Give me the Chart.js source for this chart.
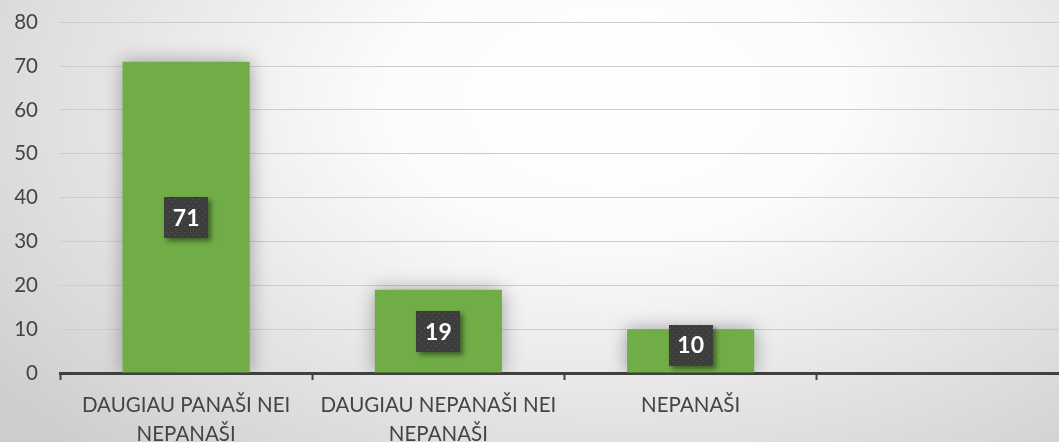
<!DOCTYPE html>
<html>
<head>
<meta charset="utf-8">
<script src="https://cdn.jsdelivr.net/npm/chart.js@4/dist/chart.umd.min.js"></script>
<style>
  html, body { margin: 0; padding: 0; overflow: hidden; width: 1059px; height: 442px; }
  body {
    background: radial-gradient(ellipse 75% 110% at 58% 22%, #ffffff 0%, #fcfcfc 28%, #e6e6e6 62%, #cdcdcd 100%);
  }
  #wrap { position: absolute; left: 0; top: -12px; width: 1070px; height: 454px; }
</style>
</head>
<body>
<div id="wrap"><canvas id="c"></canvas></div>
<script>
const categories = [["DAUGIAU PANAŠI NEI", "NEPANAŠI"], ["DAUGIAU NEPANAŠI NEI", "NEPANAŠI"], "NEPANAŠI", ""];
const values = [71, 19, 10, null];
const yTicks = [0, 10, 20, 30, 40, 50, 60, 70, 80];

const FONT = "Lato, 'Open Sans', sans-serif";
const TEXT = "#444444";

// dotted dark pattern for data label boxes
function makePattern(ctx) {
  const p = document.createElement("canvas");
  p.width = 6; p.height = 6;
  const pc = p.getContext("2d");
  pc.fillStyle = "#3d3d3d";
  pc.fillRect(0, 0, 6, 6);
  pc.fillStyle = "#575757";
  pc.fillRect(1, 1, 1, 1);
  pc.fillRect(4, 4, 1, 1);
  return ctx.createPattern(p, "repeat");
}

const barShadow = {
  id: "barShadow",
  beforeDatasetDraw(chart) {
    const ctx = chart.ctx;
    ctx.save();
    ctx.shadowColor = "rgba(0,0,0,0.35)";
    ctx.shadowBlur = 18;
  },
  afterDatasetDraw(chart) {
    chart.ctx.restore();
  }
};

const dataLabels = {
  id: "dataLabels",
  afterDatasetsDraw(chart) {
    const ctx = chart.ctx;
    const pat = makePattern(ctx);
    const meta = chart.getDatasetMeta(0);
    meta.data.forEach((bar, i) => {
      const v = values[i];
      if (v === null || v === undefined) return;
      const w = 44, h = 41;
      let cy = (bar.y + bar.base) / 2;
      if (cy + h / 2 > bar.base - 7) cy = bar.base - 7 - h / 2;
      const x0 = Math.round(bar.x - w / 2), y0 = Math.round(cy - h / 2);
      ctx.save();
      ctx.shadowColor = "rgba(0,0,0,0.45)";
      ctx.shadowBlur = 5;
      ctx.shadowOffsetX = 3;
      ctx.shadowOffsetY = 3;
      ctx.fillStyle = "#3d3d3d";
      ctx.fillRect(x0, y0, w, h);
      ctx.restore();
      ctx.save();
      ctx.fillStyle = pat;
      ctx.fillRect(x0, y0, w, h);
      ctx.fillStyle = "#ffffff";
      ctx.font = "bold 23px " + FONT;
      ctx.textAlign = "center";
      ctx.textBaseline = "middle";
      ctx.fillText(String(v), bar.x, cy + 1);
      ctx.restore();
    });
  }
};

new Chart(document.getElementById("c"), {
  type: "bar",
  data: {
    labels: categories,
    datasets: [{
      data: values,
      backgroundColor: "#70ad47",
      borderWidth: 0,
      categoryPercentage: 1,
      barPercentage: 0.504
    }]
  },
  options: {
    responsive: true,
    maintainAspectRatio: false,
    animation: false,
    layout: { padding: { top: 10, right: 1, left: 0, bottom: 0 } },
    plugins: { legend: { display: false }, tooltip: { enabled: false } },
    scales: {
      x: {
        grid: { display: true, offset: true, drawOnChartArea: false, drawTicks: true, tickLength: 7, tickWidth: 2, tickColor: "#404040", color: "#404040" },
        border: { display: true, color: "#404040", width: 3 },
        ticks: { color: TEXT, font: { family: FONT, size: 20.5, lineHeight: 1.42 }, padding: 11, maxRotation: 0, autoSkip: false },
        afterFit(s) { s.height = 69; }
      },
      y: {
        min: 0, max: 80,
        afterBuildTicks(s) { s.ticks = yTicks.map(v => ({ value: v })); },
        grid: { color: "#cdcdcd", lineWidth: 1, drawTicks: false },
        border: { display: false },
        ticks: { color: TEXT, font: { family: FONT, size: 20.5 }, padding: 22 },
        afterFit(s) { s.width = 60; }
      }
    }
  },
  plugins: [barShadow, dataLabels]
});
</script>
</body>
</html>
